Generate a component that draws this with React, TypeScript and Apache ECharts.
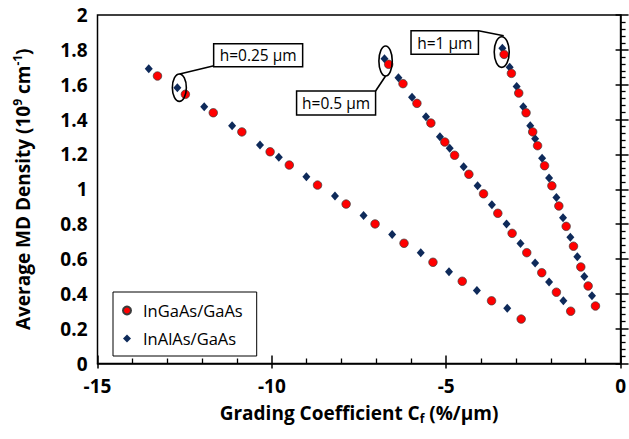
import React, { useEffect, useRef } from "react";
import * as echarts from "echarts";

// InGaAs/GaAs (red circles), [Cf, density]
const inGaAsH025 = [
  [-13.28, 1.65], [-12.48, 1.545], [-11.68, 1.439], [-10.86, 1.329], [-10.05, 1.215],
  [-9.5, 1.139], [-8.69, 1.024], [-7.87, 0.915], [-7.04, 0.801], [-6.21, 0.69],
  [-5.38, 0.581], [-4.54, 0.472], [-3.7, 0.36], [-2.85, 0.255],
];
const inGaAsH05 = [
  [-6.65, 1.717], [-6.24, 1.606], [-5.84, 1.493], [-5.44, 1.38], [-5.04, 1.271],
  [-4.76, 1.195], [-4.35, 1.086], [-3.93, 0.974], [-3.52, 0.862], [-3.11, 0.747],
  [-2.69, 0.636], [-2.26, 0.521], [-1.84, 0.409], [-1.43, 0.3],
];
const inGaAsH1 = [
  [-3.34, 1.774], [-3.13, 1.665], [-2.92, 1.552], [-2.71, 1.439], [-2.52, 1.329],
  [-2.38, 1.25], [-2.18, 1.135], [-1.97, 1.02], [-1.77, 0.904], [-1.56, 0.787],
  [-1.35, 0.673], [-1.14, 0.554], [-0.93, 0.445], [-0.72, 0.33],
];
// InAlAs/GaAs (navy diamonds)
const inAlAsH025 = [
  [-13.53, 1.692], [-12.71, 1.583], [-11.94, 1.474], [-11.14, 1.365], [-10.34, 1.254],
  [-9.8, 1.183], [-9.01, 1.072], [-8.19, 0.961], [-7.37, 0.85], [-6.55, 0.741],
  [-5.73, 0.636], [-4.92, 0.527], [-4.12, 0.419], [-3.25, 0.317],
];
const inAlAsH05 = [
  [-6.77, 1.749], [-6.37, 1.64], [-5.98, 1.528], [-5.58, 1.416], [-5.18, 1.302],
  [-4.9, 1.235], [-4.5, 1.129], [-4.1, 1.02], [-3.69, 0.911], [-3.27, 0.801],
  [-2.87, 0.688], [-2.45, 0.577], [-2.05, 0.468], [-1.64, 0.36],
];
const inAlAsH1 = [
  [-3.39, 1.809], [-3.18, 1.7], [-2.98, 1.589], [-2.79, 1.474], [-2.59, 1.365],
  [-2.45, 1.29], [-2.25, 1.178], [-2.05, 1.065], [-1.84, 0.952], [-1.65, 0.837],
  [-1.44, 0.724], [-1.24, 0.613], [-1.04, 0.5], [-0.82, 0.389],
];

const seriesNames = ["InGaAs/GaAs", "InAlAs/GaAs"];
const annotationLabels = ["h=0.25 \u03bcm", "h=0.5 \u03bcm", "h=1 \u03bcm"];
const xRange = { min: -15, max: 0, interval: 5 };
const yRange = { min: 0, max: 2, interval: 0.2 };

const FONT = "'Open Sans', 'DejaVu Sans', sans-serif";

export default function App() {
  const ref = useRef<HTMLDivElement>(null);

  useEffect(() => {
    const chart = echarts.init(ref.current!, null, { renderer: "svg" });
    const axisLine = { show: true, lineStyle: { color: "#000", width: 1.5 } };
    const baseX = { type: "value", min: xRange.min, max: xRange.max, interval: xRange.interval, position: "bottom", splitLine: { show: false } };
    const baseY = { type: "value", min: yRange.min, max: yRange.max, interval: yRange.interval, position: "left", splitLine: { show: false } };

    chart.setOption({
      animation: false,
      backgroundColor: "#fff",
      textStyle: { fontFamily: FONT },
      grid: { left: 97.5, right: 5.5, top: 15, bottom: 75.5, show: true, borderColor: "#000", borderWidth: 1.5, backgroundColor: "transparent" },
      legend: {
        data: seriesNames,
        orient: "vertical",
        left: 113,
        top: 292,
        borderColor: "#000",
        borderWidth: 1,
        backgroundColor: "#fff",
        padding: [10, 14, 9, 9],
        itemGap: 11,
        itemWidth: 8,
        itemHeight: 8,
        textStyle: { fontFamily: FONT, fontSize: 16.5, color: "#000", padding: [0, 0, 0, 7] },
      },
      xAxis: [
        {
          ...baseX,
          axisLine,
          axisTick: { show: true, inside: false, length: 5, lineStyle: { color: "#000", width: 1.5 } },
          axisLabel: { color: "#000", fontSize: 19, fontWeight: "bold", fontFamily: FONT, margin: 13 },
          name: "Grading Coefficient C{sub|f} (%/\u03bcm)",
          nameLocation: "middle",
          nameGap: 37,
          nameTextStyle: {
            color: "#000", fontSize: 19, fontWeight: "bold", fontFamily: FONT,
            rich: { sub: { fontSize: 12, fontWeight: "bold", verticalAlign: "bottom", padding: [12, 0, 0, 0], fontFamily: FONT, color: "#000" } },
          },
        },
        {
          ...baseX,
          axisLine: { show: false },
          axisTick: { show: true, inside: true, length: 8, lineStyle: { color: "#000", width: 1.5 } },
          minorTick: { show: true, splitNumber: 5, length: 5, lineStyle: { color: "#000", width: 1.3 } },
          axisLabel: { show: false },
        },
      ],
      yAxis: [
        {
          ...baseY,
          axisLine,
          axisTick: { show: true, inside: false, length: 5, lineStyle: { color: "#000", width: 1.5 } },
          axisLabel: {
            color: "#000", fontSize: 19, fontWeight: "bold", fontFamily: FONT, margin: 10,
            formatter: (v: number) => String(Math.round(v * 10) / 10),
          },
          name: "Average MD Density (10{sup|9} cm{sup|-1})",
          nameLocation: "middle",
          nameGap: 64,
          nameTextStyle: {
            color: "#000", fontSize: 19, fontWeight: "bold", fontFamily: FONT,
            rich: { sup: { fontSize: 12, fontWeight: "bold", verticalAlign: "top", padding: [0, 0, 10, 0], fontFamily: FONT, color: "#000" } },
          },
        },
        {
          ...baseY,
          axisLine: { show: false },
          axisTick: { show: true, inside: true, length: 8, lineStyle: { color: "#000", width: 1.5 } },
          minorTick: { show: true, splitNumber: 5, length: 5, lineStyle: { color: "#000", width: 1.3 } },
          axisLabel: { show: false },
        },
      ],
      series: [
        {
          type: "scatter",
          name: seriesNames[1],
          xAxisIndex: 0,
          yAxisIndex: 0,
          data: [...inAlAsH025, ...inAlAsH05, ...inAlAsH1],
          symbol: "diamond",
          symbolSize: [8, 9],
          itemStyle: { color: "#0E2A5A", opacity: 1 },
          z: 3,
        },
        {
          type: "scatter",
          name: seriesNames[0],
          xAxisIndex: 0,
          yAxisIndex: 0,
          data: [...inGaAsH025, ...inGaAsH05, ...inGaAsH1],
          symbol: "circle",
          symbolSize: 8.5,
          itemStyle: { color: "#FF0000", borderColor: "#3a3a3a", borderWidth: 0.7, opacity: 1 },
          z: 4,
        },
      ],
    });

    const px = (p: number[]) => chart.convertToPixel({ seriesIndex: 0 }, p) as number[];
    const mid = (a: number[], b: number[]) => [(a[0] + b[0]) / 2, (a[1] + b[1]) / 2];

    const a025 = px(inAlAsH025[1]);
    const c025 = [a025[0] + 2, a025[1]];
    const c05raw = mid(px(inAlAsH05[0]), px(inGaAsH05[0]));
    const c05 = [c05raw[0] - 1, c05raw[1] - 0.5];
    const c1raw = mid(px(inAlAsH1[0]), px(inGaAsH1[0]));
    const c1 = [c1raw[0] - 1.5, c1raw[1] + 0.7];

    const lineStyle = { stroke: "#000", lineWidth: 1.6, fill: null };
    const box = (x: number, y: number, w: number, h: number, text: string) => ({
      type: "group",
      children: [
        { type: "rect", shape: { x, y, width: w, height: h }, style: { fill: "#fff", stroke: "#000", lineWidth: 1.5 }, z: 10 },
        { type: "text", x: x + w / 2, y: y + h / 2, style: { text, fill: "#000", font: `15.5px ${FONT}`, align: "center", verticalAlign: "middle" }, z: 11 },
      ],
    });
    const ell = (c: number[], rx: number, ry: number) => ({
      type: "ellipse", shape: { cx: c[0], cy: c[1], rx, ry }, style: { fill: null, stroke: "#000", lineWidth: 1.6 }, z: 10,
    });
    const ln = (x1: number, y1: number, x2: number, y2: number) => ({
      type: "line", shape: { x1, y1, x2, y2 }, style: lineStyle, z: 10,
    });

    chart.setOption({
      graphic: [
        ell(c025, 7, 13.7),
        ln(c025[0] + 0.3, c025[1] - 13.7, c025[0] + 34.6, c025[1] - 22),
        box(c025[0] + 34.3, c025[1] - 44, 89, 23, annotationLabels[0]),
        ell(c05, 6.7, 15),
        ln(c05[0], c05[1] + 15, c05[0] - 10, c05[1] + 30),
        box(c05[0] - 89, c05[1] + 30, 79, 24, annotationLabels[1]),
        ell(c1, 7.5, 15.3),
        ln(c1[0] - 23.3, c1[1] - 21.3, c1[0] + 2, c1[1] - 16.3),
        box(c1[0] - 90.7, c1[1] - 21.3, 67.4, 23.6, annotationLabels[2]),
      ],
    });

    return () => chart.dispose();
  }, []);

  return <div ref={ref} style={{ position: "absolute", left: 0, top: 0, width: 629, height: 439 }} />;
}
